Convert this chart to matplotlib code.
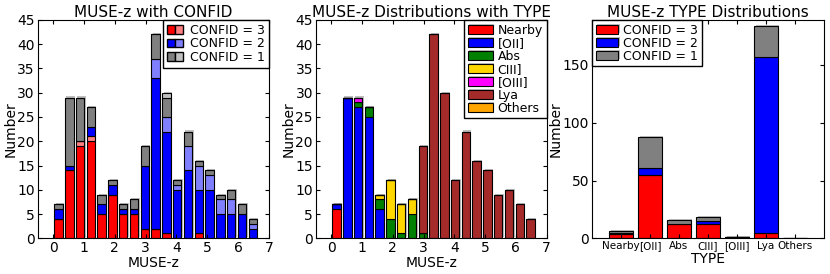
import numpy as np
import matplotlib
matplotlib.use('Agg')
import matplotlib.pyplot as plt
import matplotlib.patheffects as pe
from matplotlib.patches import Patch
from matplotlib.legend_handler import HandlerTuple

plt.rcParams['font.family'] = 'DejaVu Sans'
plt.rcParams['xtick.direction'] = 'in'
plt.rcParams['ytick.direction'] = 'in'
plt.rcParams['xtick.top'] = True
plt.rcParams['ytick.right'] = True
plt.rcParams['legend.fancybox'] = False
plt.rcParams['legend.edgecolor'] = 'black'
plt.rcParams['legend.framealpha'] = 1.0

# redshift bins
z_edges = np.arange(0, 6.7, 0.35)

# panel 1: counts per bin split by CONFID (dark / light part)
c3_dark = [4, 14, 19, 20, 5, 9, 5, 5, 2, 2, 1, 0, 0, 1, 0, 0, 0, 0, 0]
c3_light = [0, 0, 1, 1, 0, 0, 0, 0, 0, 0, 0, 0, 0, 0, 0, 0, 0, 0, 0]
c2_dark = [2, 1, 0, 2, 2, 2, 1, 1, 13, 31, 21, 10, 14, 9, 10, 5, 5, 5, 2]
c2_light = [0, 0, 0, 0, 0, 0, 0, 0, 0, 4, 3, 1, 5, 5, 3, 3, 3, 0, 1]
c1_dark = [1, 14, 9, 4, 2, 1, 1, 2, 4, 5, 4, 1, 3, 1, 1, 1, 2, 2, 1]
c1_light = [0, 0, 0, 0, 0, 0, 0, 0, 0, 0, 1, 0, 0, 0, 0, 0, 0, 0, 0]

# panel 2: counts per bin split by TYPE
types = ['Nearby', '[OII]', 'Abs', 'CIII]', '[OIII]', 'Lya', 'Others']
type_colors = ['red', 'blue', 'green', 'gold', 'magenta', 'brown', 'orange']
t_nearby = [6, 0, 0, 0, 0, 0, 0, 0, 0, 0, 0, 0, 0, 0, 0, 0, 0, 0, 0]
t_oii = [1, 29, 27, 25, 6, 0, 0, 0, 0, 0, 0, 0, 0, 0, 0, 0, 0, 0, 0]
t_abs = [0, 0, 1, 2, 2, 4, 1, 5, 1, 0, 0, 0, 0, 0, 0, 0, 0, 0, 0]
t_ciii = [0, 0, 0, 0, 1, 8, 6, 3, 0, 0, 0, 0, 0, 0, 0, 0, 0, 0, 0]
t_oiii = [0, 0, 1, 0, 0, 0, 0, 0, 0, 0, 0, 0, 0, 0, 0, 0, 0, 0, 0]
t_lya = [0, 0, 0, 0, 0, 0, 0, 0, 18, 42, 30, 12, 22, 16, 14, 9, 10, 7, 4]
t_others = [0] * 19

# panel 3: counts per TYPE split by CONFID
type_c3 = [4, 55, 12, 12, 1, 5, 0]
type_c2 = [1, 6, 0, 3, 0, 152, 0]
type_c1 = [1, 27, 4, 3, 0, 27, 0]

shadow = [pe.SimplePatchShadow(offset=(1.0, 0.8), shadow_rgbFace='gray', alpha=0.5), pe.Normal()]

centers = 0.5 * (z_edges[:-1] + z_edges[1:])
bw = 0.78 * (z_edges[1] - z_edges[0])

fig = plt.figure(figsize=(8.3, 2.74), dpi=100)
ax1 = fig.add_axes([0.0454, 0.1303, 0.2787, 0.797])
ax2 = fig.add_axes([0.3804, 0.1303, 0.2783, 0.797])
ax3 = fig.add_axes([0.7133, 0.1303, 0.2795, 0.797])

# ---- panel 1
segs = [(c3_dark, 'red'), (c3_light, '#ff8080'),
        (c2_dark, 'blue'), (c2_light, '#8080ff'),
        (c1_dark, 'gray'), (c1_light, '#c0c0c0')]
bottom = np.zeros(len(centers))
for vals, col in segs:
    vals = np.array(vals)
    bars = ax1.bar(centers, vals, bw, bottom=bottom, color=col, edgecolor='black', linewidth=0.8)
    for b in bars:
        b.set_path_effects(shadow)
    bottom += vals

h3 = (Patch(facecolor='red', edgecolor='black'), Patch(facecolor='#ff8080', edgecolor='black'))
h2 = (Patch(facecolor='blue', edgecolor='black'), Patch(facecolor='#8080ff', edgecolor='black'))
h1 = (Patch(facecolor='gray', edgecolor='black'), Patch(facecolor='#c0c0c0', edgecolor='black'))
ax1.legend([h3, h2, h1], ['CONFID = 3', 'CONFID = 2', 'CONFID = 1'],
           handler_map={tuple: HandlerTuple(ndivide=None, pad=0)},
           loc='upper right', borderaxespad=0, fontsize=9, borderpad=0.3,
           handlelength=1.3, handletextpad=0.6, labelspacing=0.05)
ax1.set_xlim(-0.5, 7)
ax1.set_ylim(0, 45)
ax1.set_xticks(range(0, 8))
ax1.set_yticks(range(0, 46, 5))
ax1.set_title('MUSE-z with CONFID', fontsize=11, pad=2)
ax1.set_xlabel('MUSE-z', fontsize=10, labelpad=1)
ax1.set_ylabel('Number', fontsize=10, labelpad=0)

# ---- panel 2
bottom = np.zeros(len(centers))
type_series = [t_nearby, t_oii, t_abs, t_ciii, t_oiii, t_lya, t_others]
for vals, col, name in zip(type_series, type_colors, types):
    vals = np.array(vals)
    bars = ax2.bar(centers, vals, bw, bottom=bottom, color=col, edgecolor='black',
                   linewidth=0.8, label=name)
    for b in bars:
        b.set_path_effects(shadow)
    bottom += vals
ax2.legend(loc='upper right', borderaxespad=0, fontsize=9, borderpad=0.3,
           handlelength=2.0, handletextpad=0.4, labelspacing=0.0)
ax2.set_xlim(-0.5, 7)
ax2.set_ylim(0, 45)
ax2.set_xticks(range(0, 8))
ax2.set_yticks(range(0, 46, 5))
ax2.set_title('MUSE-z Distributions with TYPE', fontsize=11, pad=2)
ax2.set_xlabel('MUSE-z', fontsize=10, labelpad=1)
ax2.set_ylabel('Number', fontsize=10, labelpad=0)

# ---- panel 3
pos = np.arange(len(types))
bottom = np.zeros(len(types))
for vals, col, lab in [(type_c3, 'red', 'CONFID = 3'), (type_c2, 'blue', 'CONFID = 2'),
                       (type_c1, 'gray', 'CONFID = 1')]:
    vals = np.array(vals)
    bars = ax3.bar(pos, vals, 0.8, bottom=bottom, color=col, edgecolor='black',
                   linewidth=0.8, label=lab)
    for b in bars:
        b.set_path_effects(shadow)
    bottom += vals
ax3.legend(loc='upper left', borderaxespad=0, fontsize=9, borderpad=0.3,
           handlelength=1.8, handletextpad=0.4, labelspacing=0.0)
ax3.set_xlim(-1, 7)
ax3.set_ylim(0, 189)
ax3.set_xticks(pos)
ax3.set_xticklabels(types, fontsize=7)
ax3.set_yticks([0, 50, 100, 150])
ax3.set_title('MUSE-z TYPE Distributions', fontsize=11, pad=2)
ax3.set_xlabel('TYPE', fontsize=10, labelpad=1)
ax3.set_ylabel('Number', fontsize=10, labelpad=0)

for ax in (ax1, ax2, ax3):
    ax.tick_params(labelsize=10, length=3, pad=2)
ax3.tick_params(axis='x', labelsize=7.5)

fig.savefig('out.png', dpi=100)
